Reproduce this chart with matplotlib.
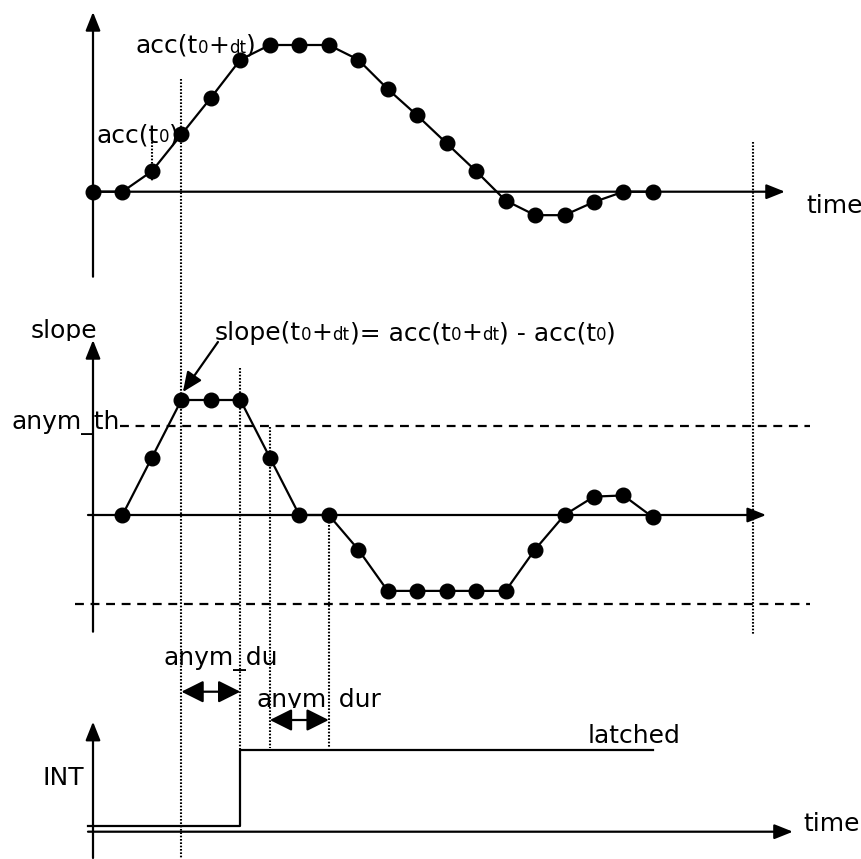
import numpy as np
import matplotlib
matplotlib.use("Agg")
import matplotlib.pyplot as plt
import matplotlib.transforms as mtransforms

# --- data (sample index -> value) ---
acc = [0, 0, 1.4, 3.9, 6.4, 9.0, 10, 10, 10, 9.0, 7.0, 5.2, 3.3, 1.4, -0.6, -1.6, -1.6, -0.7, 0, 0]
slope = [0, 5.0, 10, 10, 10, 5.0, 0, 0, -3.0, -6.6, -6.6, -6.6, -6.6, -6.6, -3.0, 0, 1.6, 1.7, -0.2]
int_state = [0, 0, 0, 0, 0, 1, 1, 1, 1, 1, 1, 1, 1, 1, 1, 1, 1, 1, 1, 1]
anym_th = 7.7

t_acc = np.arange(len(acc))
t_slope = np.arange(1, len(slope) + 1)
t_int = np.arange(len(int_state))

W, H, DPI = 862, 859, 100
X0, DX = 93.0, 29.47          # pixel column of sample 0, pixel per sample
FS = 18
LW = 1.6
BLACK = "black"

plt.rcParams.update({"font.family": "DejaVu Sans", "font.size": FS})
fig = plt.figure(figsize=(W / DPI, H / DPI), dpi=DPI)
xlim = (-X0 / DX, (W - X0) / DX)


def panel(zero_row, px_per_unit):
    ax = fig.add_axes([0, 0, 1, 1])
    ax.set_xlim(*xlim)
    ax.set_ylim((zero_row - H) / px_per_unit, zero_row / px_per_unit)
    ax.axis("off")
    ax.patch.set_alpha(0)
    return ax


# overlay for layout: x in samples, y in pixel rows
ov = fig.add_axes([0, 0, 1, 1])
ov.set_xlim(*xlim)
ov.set_ylim(H, 0)
ov.axis("off")

ax_acc = panel(191.7, 14.67)
ax_sl = panel(515.0, 11.5)
ax_int = panel(826.0, 76.0)

dot = dict(color=BLACK, lw=LW, marker="o", ms=10.5, clip_on=False)
ax_acc.plot(t_acc, acc, **dot)
ax_sl.plot(t_slope, slope, **dot)

xs = np.r_[-0.17, t_int]
ys = np.r_[0, int_state]
ax_int.plot(xs, ys, color=BLACK, lw=LW, drawstyle="steps-post", clip_on=False)

# threshold lines
dash = (0, (4, 3))
ax_sl.plot([0.92, 24.33], [anym_th, anym_th], color=BLACK, lw=LW, ls=dash)
ax_sl.plot([-0.61, 24.33], [-anym_th, -anym_th], color=BLACK, lw=LW, ls=dash)

# axes with arrows
ax_arrow = dict(arrowstyle="-|>,head_length=0.75,head_width=0.3", color=BLACK, lw=LW,
                shrinkA=0, shrinkB=0, mutation_scale=15)
ax_acc.annotate("", xy=(23.48, 0), xytext=(-0.17, 0), arrowprops=ax_arrow)
ax_sl.annotate("", xy=(22.84, 0), xytext=(-0.17, 0), arrowprops=ax_arrow)
ax_int.annotate("", xy=(23.75, -0.075), xytext=(-0.17, -0.075), arrowprops=ax_arrow)
ov.annotate("", xy=(0, 12), xytext=(0, 276.7), arrowprops=ax_arrow)
ov.annotate("", xy=(0, 340), xytext=(0, 631.7), arrowprops=ax_arrow)
ov.annotate("", xy=(0, 721.7), xytext=(0, 858), arrowprops=ax_arrow)

# dotted guide lines
dotted = dict(color=BLACK, lw=1.5, ls=(0, (0.8, 0.8)))
for x, r0, r1 in [(2, 141.7, 181.7), (3, 79, 858), (5, 368, 750), (6, 426.7, 748),
                  (8, 515, 748), (22.39, 142, 635)]:
    ov.plot([x, x], [r0, r1], **dotted)

# duration arrows
dbl = dict(arrowstyle="<|-|>,head_length=0.9,head_width=0.45", color=BLACK, lw=LW,
           shrinkA=0, shrinkB=0, mutation_scale=15)
ov.annotate("", xy=(3, 691.7), xytext=(5, 691.7), arrowprops=dbl)
ov.annotate("", xy=(6, 720), xytext=(8, 720), arrowprops=dbl)

# pointer arrow
ov.annotate("", xy=(3.05, 392), xytext=(4.24, 342),
            arrowprops=dict(arrowstyle="-|>,head_length=0.8,head_width=0.35", color=BLACK,
                            lw=LW, shrinkA=0, shrinkB=0, mutation_scale=15))

renderer = fig.canvas.get_renderer()
SMALL = 12


def rich_text(x, y, parts):
    tr = ov.transData
    for s, size in parts:
        txt = ov.text(x, y, s, fontsize=size, transform=tr, va="baseline", ha="left")
        txt.draw(renderer)
        ex = txt.get_window_extent(renderer)
        tr = mtransforms.offset_copy(txt.get_transform(), fig=fig, x=ex.width, units="dots")


def clipped(x, y, s, row_bottom):
    txt = ov.text(x, y, s, va="baseline", ha="left")
    txt.set_clip_box(mtransforms.Bbox.from_extents(0, H - row_bottom, W, H))
    txt.set_clip_on(True)


rich_text(1.43, 53, [("acc(t", FS), ("0", SMALL), ("+", FS), ("dt", SMALL), (")", FS)])
rich_text(0.12, 142, [("acc(t", FS), ("0", SMALL), (")", FS)])
rich_text(4.14, 340, [("slope(t", FS), ("0", SMALL), ("+", FS), ("dt", SMALL),
                      (")= acc(t", FS), ("0", SMALL), ("+", FS), ("dt", SMALL),
                      (") - acc(t", FS), ("0", SMALL), (")", FS)])
clipped(-2.1, 338, "slope", 341)
ov.text(-2.75, 429, "anym_th", va="baseline")
ov.text(2.38, 665, "anym_du", va="baseline")
clipped(5.55, 707, "anym_dur", 708)
ov.text(16.8, 743, "latched", va="baseline")
ov.text(-1.7, 785, "INT", va="baseline")
ov.text(24.2, 213, "time", va="baseline")
ov.text(24.1, 831, "time", va="baseline")

fig.savefig("out.png", dpi=DPI)
